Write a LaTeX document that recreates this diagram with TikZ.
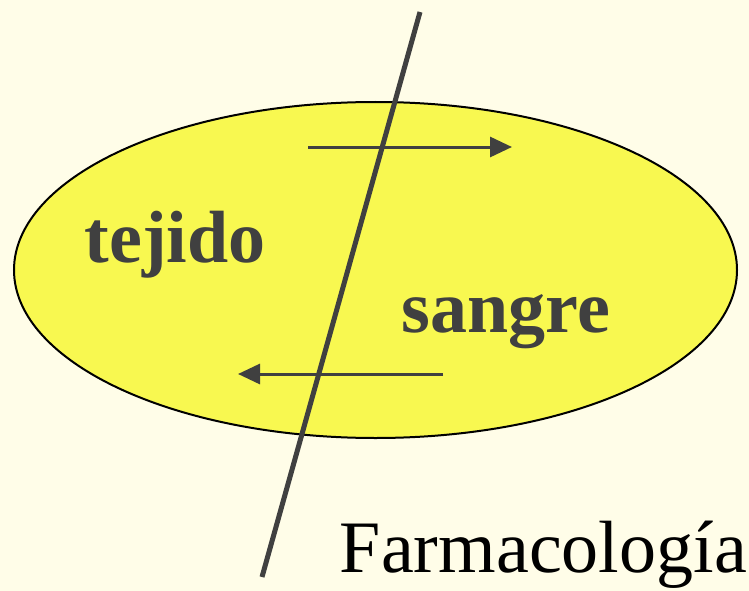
\documentclass[tikz,border=0pt]{standalone}
\usepackage{fontspec}
\setmainfont{Liberation Serif}
\usetikzlibrary{arrows.meta,shapes.geometric}
\definecolor{bgc}{HTML}{FFFDE8}
\definecolor{ellc}{HTML}{F8F850}
\definecolor{ink}{HTML}{404040}
\tikzset{
  flow/.style={draw=ink, line width=3pt, -{Triangle[length=22pt,width=20pt]}},
  lbl/.style={text=ink, font=\fontsize{74}{80}\selectfont\bfseries, anchor=base, inner sep=0pt},
}
\begin{document}
\begin{tikzpicture}[x=1pt,y=-1pt]
\fill[bgc] (0,0) rectangle (749,591);
\useasboundingbox (0,0) rectangle (749,591);
\node[draw=black, line width=2pt, fill=ellc, ellipse, minimum width=723pt, minimum height=336pt, inner sep=0pt] (ell) at (375.5,270) {};
\coordinate (la) at (420,12);
\coordinate (lb) at (262,577);
\draw[ink, line width=5pt] (la) -- (lb);
\coordinate (a1) at (308,147);
\coordinate (a2) at (512,147);
\coordinate (b1) at (443,374);
\coordinate (b2) at (238,374);
\draw[flow] (a1) -- (a2);
\draw[flow] (b1) -- (b2);
\node[lbl] (tej) at (175,262) {tejido};
\node[lbl] (san) at (506,332) {sangre};
\node[text=black, font=\fontsize{74}{80}\selectfont, anchor=base east, inner sep=0pt] (farm) at (747,572) {Farmacología};
\end{tikzpicture}
\end{document}
